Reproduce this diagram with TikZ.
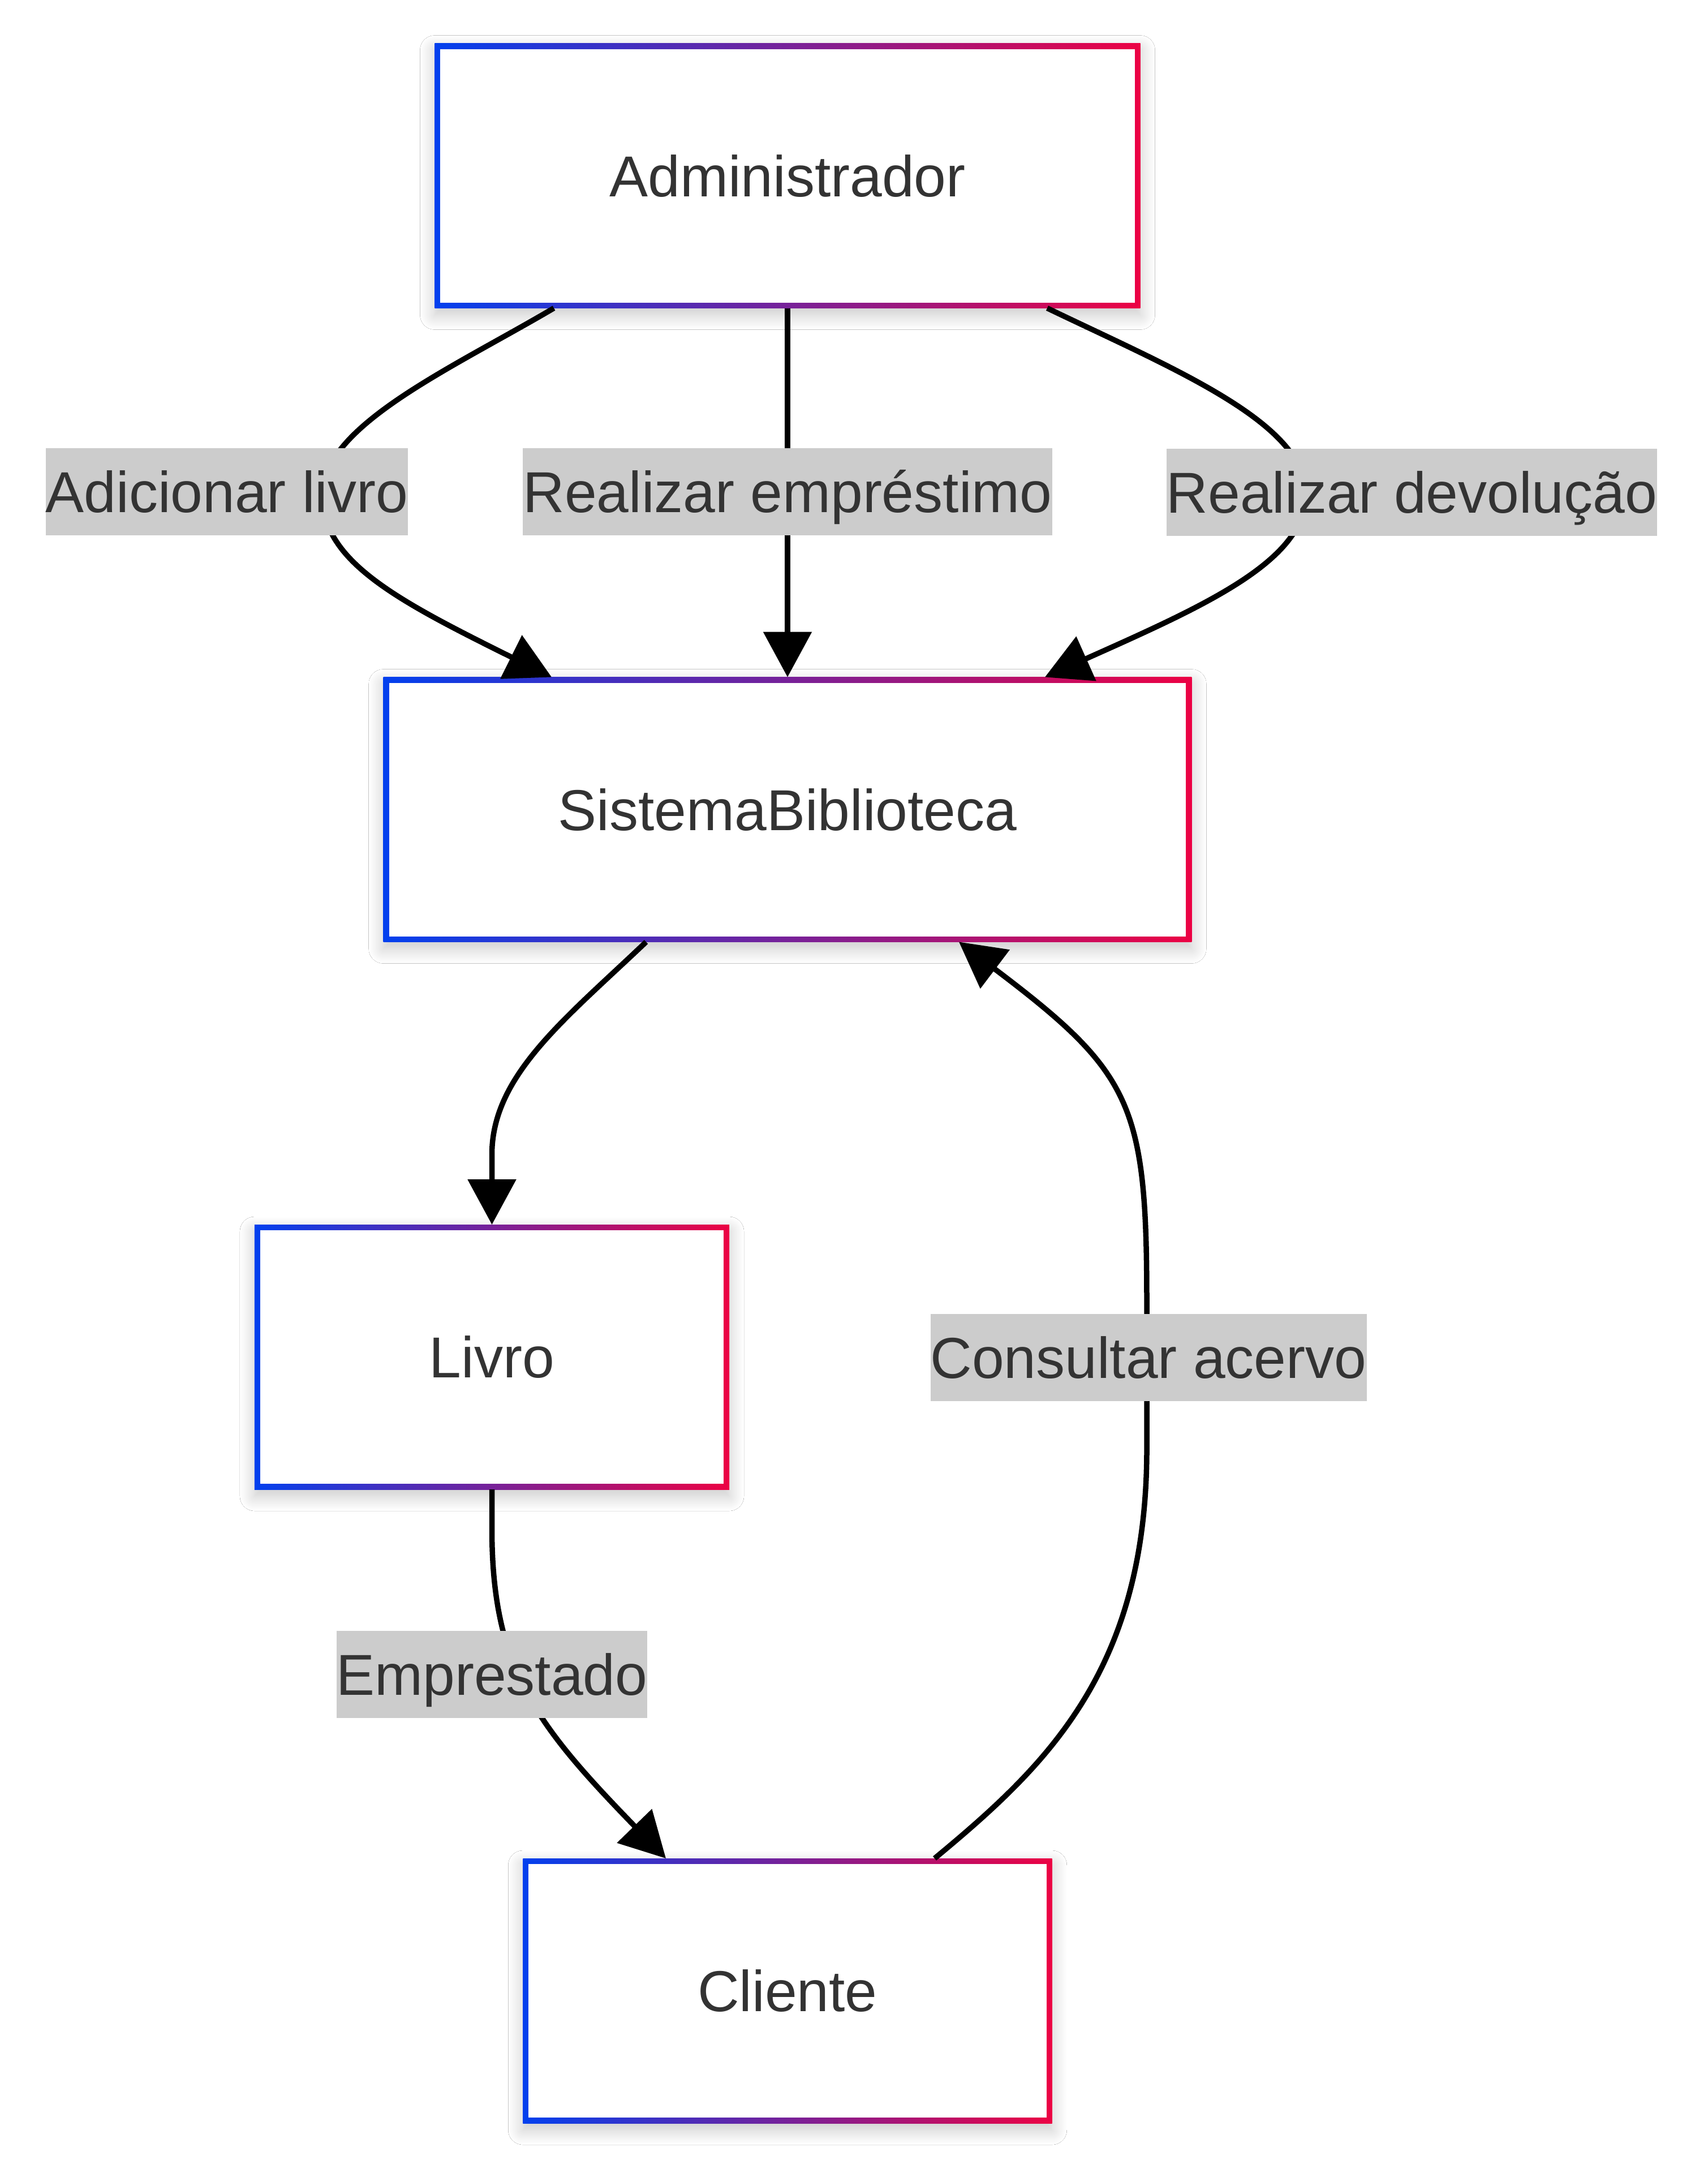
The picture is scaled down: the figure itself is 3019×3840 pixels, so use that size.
\documentclass[tikz,border=0pt]{standalone}
\usepackage{fontspec}
\setmainfont{Liberation Sans}
\usetikzlibrary{arrows.meta,shadows.blur}
\definecolor{cblue}{RGB}{2,64,238}
\definecolor{cred}{RGB}{236,2,68}
\definecolor{lblgray}{RGB}{204,204,204}
\definecolor{txtgray}{RGB}{51,51,51}
\tikzset{
  box/.style={rectangle, fill=white, outer sep=0pt, inner xsep=30.9pt, inner ysep=0pt,
    minimum height=46.8pt, text height=7.3pt, text depth=0pt, text=txtgray,
    font=\fontsize{10.2pt}{12pt}\selectfont,
    blur shadow={shadow xshift=0pt, shadow yshift=-1.2pt, shadow blur radius=2.6pt,
      shadow blur steps=14, shadow blur extra rounding=0pt, shadow opacity=22},
    path picture={
      \shade[left color=cblue, right color=cred]
        (path picture bounding box.south west) rectangle (path picture bounding box.north east);
      \fill[white]
        ([shift={(1pt,1pt)}]path picture bounding box.south west) rectangle
        ([shift={(-1pt,-1pt)}]path picture bounding box.north east);
    }},
  elabel/.style={rectangle, fill=lblgray, text=txtgray, outer sep=0pt, inner xsep=0pt, inner ysep=0pt,
    minimum height=15.4pt, text height=7.3pt, text depth=0pt,
    font=\fontsize{10.2pt}{12pt}\selectfont},
  flow/.style={draw=black, line width=0.95pt, -{Triangle[length=8pt,width=8.4pt]}}
}
\begin{document}
\begin{tikzpicture}[x=0.1pt,y=-0.1pt]
\useasboundingbox[fill=white] (0,0) rectangle (3019,3840);

% nodes
\node[box] (adm) at (1392,310.5) {Administrador};
\node[box] (sis) at (1392,1430.5) {SistemaBiblioteca};
\node[box] (liv) at (869.5,2398) {Livro};
\node[box] (cli) at (1392,3518) {Cliente};

% edges
\draw[flow] ([xshift=-41.3pt]adm.south) .. controls (800,650) and (575,750) .. (570,870)
   .. controls (565,990) and (700,1060) .. ([xshift=-41.7pt]sis.north);
\draw[flow] (adm.south) -- (sis.north);
\draw[flow] ([xshift=45.9pt]adm.south) .. controls (2070,650) and (2305,745) .. (2308,870)
   .. controls (2312,990) and (2130,1070) .. ([xshift=45.5pt]sis.north);
\draw[flow] ([xshift=-25pt]sis.south) .. controls (1000,1800) and (869.5,1900) .. (869.5,2040)
   -- (liv.north);
\draw[flow] (liv.south) -- ++(0,70) .. controls (869.5,2950) and (950,3050) .. ([xshift=-21.5pt]cli.north);
\draw[flow] ([xshift=26pt]cli.north) .. controls (1850,3120) and (2030,2950) .. (2027,2550)
   -- (2027,2300) .. controls (2027,1950) and (2000,1895) .. ([xshift=30.3pt]sis.south);

% edge labels
\node[elabel] (l1) at (401,869) {Adicionar livro};
\node[elabel] (l2) at (1392,869) {Realizar empréstimo};
\node[elabel] (l3) at (2495.5,870) {Realizar devolução};
\node[elabel] (l4) at (869.5,2959) {Emprestado};
\node[elabel] (l5) at (2030,2399) {Consultar acervo};
\end{tikzpicture}
\end{document}
